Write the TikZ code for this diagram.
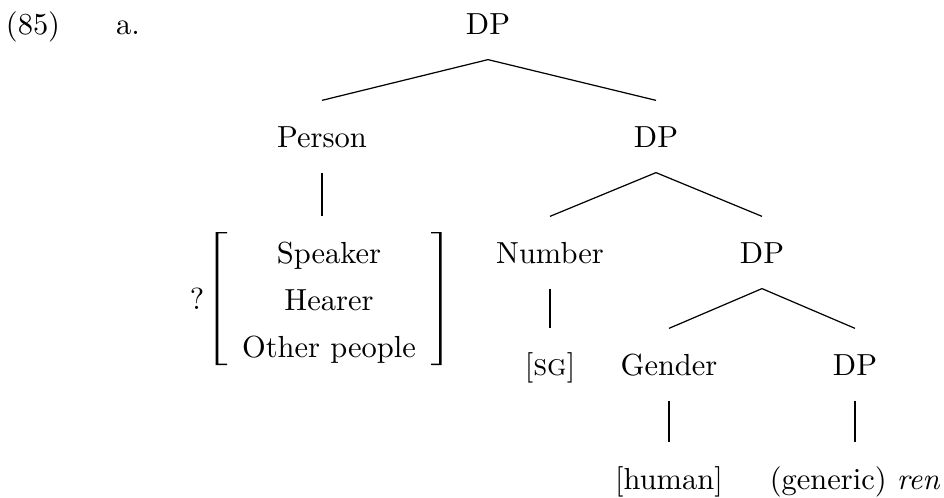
\documentclass[tikz,border=0pt]{standalone}
\begin{document}
\begin{tikzpicture}[x=0.328pt,y=-0.328pt,
  lbl/.style={anchor=base,inner sep=0pt},
  tnode/.style={anchor=base,inner xsep=0pt,inner ysep=8.2pt,
                text height=6.9pt,text depth=0pt},
  branch/.style={line width=0.4pt}]
\useasboundingbox (0,0) rectangle (944,497);

% example number
\node[lbl] (exnum) at (33,34) {(85)};
\node[lbl] (exsub) at (128,34) {a.};

% tree nodes, row by row
\node[tnode] (dp0)    at (488,34)  {DP};
\node[tnode] (person) at (322,147) {Person};
\node[tnode] (dp1)    at (656,147) {DP};
\node[tnode] (spk)    at (329,263) {Speaker};
\node[lbl]   (hea)    at (329,310) {Hearer};
\node[lbl]   (oth)    at (329,357) {Other people};
\node[lbl]   (qm)     at (197,309) {?};
\node[tnode] (num)    at (550,263) {Number};
\node[tnode] (dp2)    at (762,263) {DP};
\node[tnode] (sg)     at (550,375) {[\textsc{sg}]};
\node[tnode] (gen)    at (669,375) {Gender};
\node[tnode] (dp3)    at (855,375) {DP};
\node[tnode] (hum)    at (669,489) {[human]};
\node[tnode] (ren)    at (855,489) {(generic) \textit{ren}};

% branches
\draw[branch] (dp0.south) -- (person.north);
\draw[branch] (dp0.south) -- (dp1.north);
\draw[branch] (person.south) -- (person.south |- spk.north);
\draw[branch] (dp1.south) -- (num.north);
\draw[branch] (dp1.south) -- (dp2.north);
\draw[branch] (num.south) -- (sg.north);
\draw[branch] (dp2.south) -- (gen.north);
\draw[branch] (dp2.south) -- (dp3.north);
\draw[branch] (gen.south) -- (hum.north);
\draw[branch] (dp3.south) -- (ren.north);

% square brackets around the feature list
\fill (215.7,232) -- (227,232) -- (227,233.3) -- (218.3,233.3)
  -- (218.3,363.7) -- (227,363.7) -- (227,365) -- (215.7,365) -- cycle;
\fill (441.7,232) -- (431,232) -- (431,233.3) -- (439.1,233.3)
  -- (439.1,363.7) -- (431,363.7) -- (431,365) -- (441.7,365) -- cycle;
\end{tikzpicture}
\end{document}
